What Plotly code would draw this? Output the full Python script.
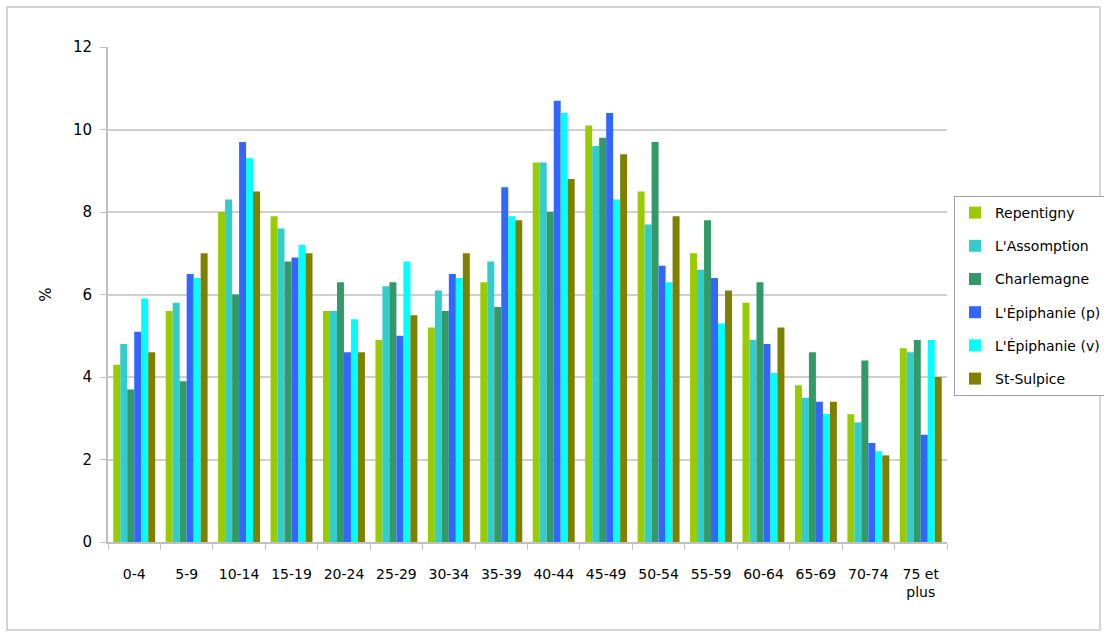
import plotly.graph_objects as go

categories = ["0-4", "5-9", "10-14", "15-19", "20-24", "25-29", "30-34", "35-39",
              "40-44", "45-49", "50-54", "55-59", "60-64", "65-69", "70-74", "75 et<br>plus"]

repentigny = [4.3, 5.6, 8.0, 7.9, 5.6, 4.9, 5.2, 6.3, 9.2, 10.1, 8.5, 7.0, 5.8, 3.8, 3.1, 4.7]
assomption = [4.8, 5.8, 8.3, 7.6, 5.6, 6.2, 6.1, 6.8, 9.2, 9.6, 7.7, 6.6, 4.9, 3.5, 2.9, 4.6]
charlemagne = [3.7, 3.9, 6.0, 6.8, 6.3, 6.3, 5.6, 5.7, 8.0, 9.8, 9.7, 7.8, 6.3, 4.6, 4.4, 4.9]
epiphanie_p = [5.1, 6.5, 9.7, 6.9, 4.6, 5.0, 6.5, 8.6, 10.7, 10.4, 6.7, 6.4, 4.8, 3.4, 2.4, 2.6]
epiphanie_v = [5.9, 6.4, 9.3, 7.2, 5.4, 6.8, 6.4, 7.9, 10.4, 8.3, 6.3, 5.3, 4.1, 3.1, 2.2, 4.9]
st_sulpice = [4.6, 7.0, 8.5, 7.0, 4.6, 5.5, 7.0, 7.8, 8.8, 9.4, 7.9, 6.1, 5.2, 3.4, 2.1, 4.0]

series_names = ["Repentigny", "L'Assomption", "Charlemagne", "L'Épiphanie (p)", "L'Épiphanie (v)", "St-Sulpice"]
series_values = [repentigny, assomption, charlemagne, epiphanie_p, epiphanie_v, st_sulpice]
colors = ["#99CC00", "#33CCCC", "#339966", "#3366FF", "#00FFFF", "#808000"]

fig = go.Figure()
for i, (name, vals, col) in enumerate(zip(series_names, series_values, colors)):
    fig.add_trace(go.Bar(x=categories, y=vals, name=name, marker=dict(color=col, line=dict(width=0)),
                         legendgroup=str(i)))

W, H = 1104, 637
L, R, T, B = 108, 947, 47, 542
pw, ph = R - L, B - T

def px(x):
    return (x - L) / pw

def py(y):
    return (B - y) / ph

fig.update_layout(
    width=W, height=H,
    margin=dict(l=L, r=W - R, t=T, b=H - B, autoexpand=False),
    paper_bgcolor="white", plot_bgcolor="white",
    barmode="group", bargap=0.2, bargroupgap=0,
    font=dict(family="DejaVu Sans", size=14, color="#000000"),
    legend=dict(x=px(954), y=py(196), xanchor="left", yanchor="top",
                bordercolor="#a0a0a0", borderwidth=1, bgcolor="white",
                font=dict(family="DejaVu Sans", size=14),
                tracegroupgap=12, traceorder="grouped",
                itemwidth=30),
    xaxis=dict(type="category", showline=True, linecolor="#c0c0c0", linewidth=2,
               ticks="outside", tickson="boundaries", ticklen=6, tickcolor="#c0c0c0",
               showgrid=False, tickfont=dict(size=14), tickangle=0,
               ticklabelstandoff=18),
    yaxis=dict(range=[0, 12], dtick=2, showline=True, linecolor="#c0c0c0", linewidth=2,
               showgrid=True, gridcolor="#d0d0d0", gridwidth=1.5,
               ticks="outside", ticklen=6, tickcolor="#c0c0c0",
               tickfont=dict(size=15), zeroline=False, ticklabelstandoff=5,
               title=dict(text="%", font=dict(size=15), standoff=18)),
    shapes=[dict(type="rect", xref="paper", yref="paper",
                 x0=px(7), x1=px(1100), y0=py(630), y1=py(7),
                 line=dict(color="#c8c8c8", width=1.5), fillcolor="rgba(0,0,0,0)", layer="below")],
)

fig.write_html("out.html", config={"displayModeBar": False},
               post_script="document.body.style.margin='0';document.body.style.overflow='hidden';")
